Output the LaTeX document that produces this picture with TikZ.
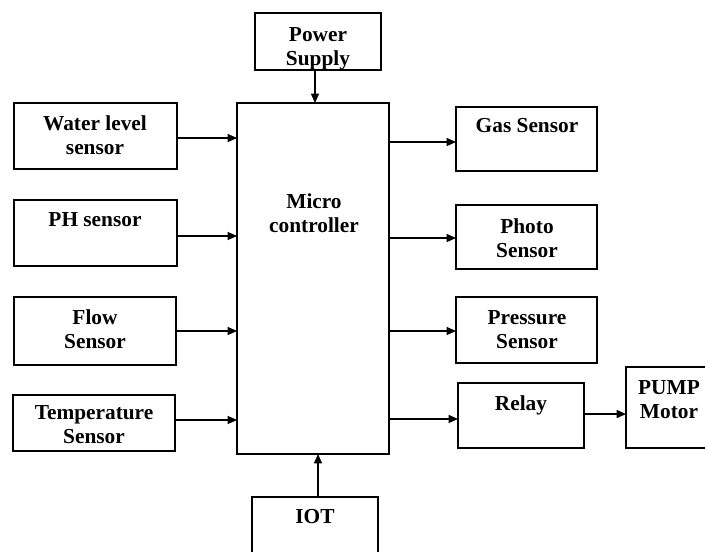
\documentclass[tikz,border=0pt]{standalone}
\usepackage{fontspec}
\setmainfont{Liberation Serif}
\usetikzlibrary{arrows.meta}
\tikzset{
  box/.style n args={2}{draw, line width=0.9pt, inner sep=0pt, outer sep=0pt,
    minimum width=#1*0.75pt, minimum height=#2*0.75pt},
  lbl/.style={anchor=north, inner sep=0pt, align=center,
    font=\fontsize{16}{18.3}\selectfont\bfseries},
  arr/.style={line width=0.9pt, -{Triangle[length=7pt,width=6pt]}}
}
\begin{document}
\begin{tikzpicture}[x=0.75pt,y=-0.75pt]
\path[use as bounding box, clip] (0,0) rectangle (705,551);
% boxes
\node[box={126}{57}]  (ps)    at (318,41.5)  {};
\node[box={152}{351}] (mc)    at (313,278.5) {};
\node[box={163}{66}]  (wl)    at (95.5,136)  {};
\node[box={163}{66}]  (ph)    at (95.5,233)  {};
\node[box={162}{68}]  (fl)    at (95,331)    {};
\node[box={162}{56}]  (tp)    at (94,423)    {};
\node[box={126}{73}]  (iot)   at (315,533.5) {};
\node[box={141}{64}]  (gas)   at (526.5,139) {};
\node[box={141}{64}]  (photo) at (526.5,237) {};
\node[box={141}{66}]  (pres)  at (526.5,330) {};
\node[box={126}{65}]  (relay) at (521,415.5) {};
\node[box={94}{81}]   (pump)  at (673,407.5) {};
% labels
\node[lbl] (tps)    at (318,27)   {Power\\Supply};
\node[lbl] (tmc)    at (314,193)  {Micro\\controller};
\node[lbl] (twl)    at (95,115)   {Water level\\sensor};
\node[lbl] (tph)    at (95,212)   {PH sensor};
\node[lbl] (tfl)    at (95,309)   {Flow\\Sensor};
\node[lbl] (ttp)    at (94,405)   {Temperature\\Sensor};
\node[lbl] (tiot)   at (315,509)  {IOT};
\node[lbl] (tgas)   at (527,118)  {Gas Sensor};
\node[lbl] (tphoto) at (527,218)  {Photo\\Sensor};
\node[lbl] (tpres)  at (527,310)  {Pressure\\Sensor};
\node[lbl] (trelay) at (521,395)  {Relay};
\node[lbl] (tpump)  at (669,380)  {PUMP\\Motor};
% connectors
\draw[arr] ([xshift=-2.25pt]ps.south) -- ([xshift=-2.25pt]ps.south |- mc.north);
\draw[arr] ([xshift=2.25pt]iot.north) -- ([xshift=2.25pt]iot.north |- mc.south);
\draw[arr] ([yshift=-1.5pt]wl.east) -- ([yshift=-1.5pt]wl.east -| mc.west);
\draw[arr] ([yshift=-2.25pt]ph.east) -- ([yshift=-2.25pt]ph.east -| mc.west);
\draw[arr] (fl.east) -- (fl.east -| mc.west);
\draw[arr] ([yshift=2.25pt]tp.east) -- ([yshift=2.25pt]tp.east -| mc.west);
\draw[arr] ([yshift=-2.25pt]gas.west -| mc.east) -- ([yshift=-2.25pt]gas.west);
\draw[arr] ([yshift=-0.75pt]photo.west -| mc.east) -- ([yshift=-0.75pt]photo.west);
\draw[arr] ([yshift=-0.75pt]pres.west -| mc.east) -- ([yshift=-0.75pt]pres.west);
\draw[arr] ([yshift=-2.6pt]relay.west -| mc.east) -- ([yshift=-2.6pt]relay.west);
\draw[arr] ([yshift=1.1pt]relay.east) -- ([yshift=1.1pt]relay.east -| pump.west);
\end{tikzpicture}
\end{document}
